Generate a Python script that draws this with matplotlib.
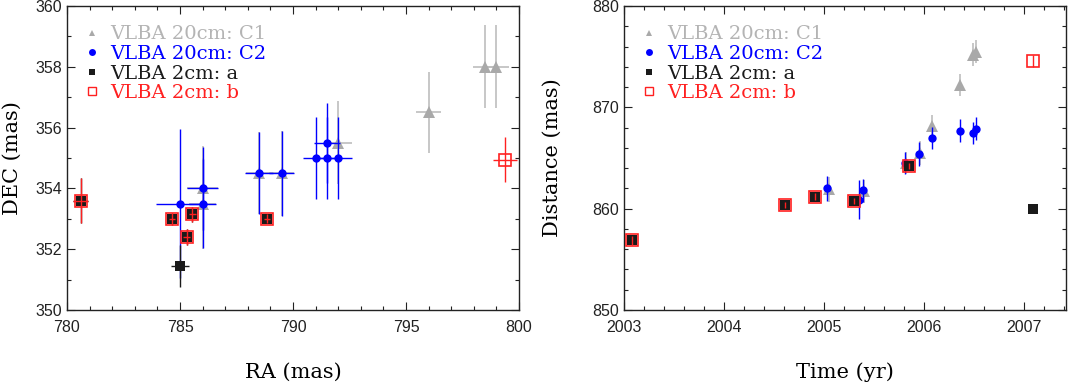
import matplotlib
matplotlib.use("Agg")
import matplotlib.pyplot as plt
from matplotlib.lines import Line2D
from matplotlib.ticker import MultipleLocator

# --- left panel: positions (mas) ---
c1_ra = [786.0, 786.0, 788.5, 789.5, 792.0, 796.0, 798.5, 799.0]
c1_dec = [354.0, 353.5, 354.5, 354.5, 355.5, 356.5, 358.0, 358.0]
c1_ra_err = [0.7, 0.6, 0.6, 0.55, 0.6, 0.55, 0.55, 0.55]
c1_dec_err = [1.4, 1.5, 1.35, 1.4, 1.37, 1.32, 1.37, 1.37]

c2_ra = [786.0, 785.0, 786.0, 788.5, 789.5, 791.0, 791.5, 791.5, 792.0]
c2_dec = [354.0, 353.5, 353.5, 354.5, 354.5, 355.0, 355.5, 355.0, 355.0]
c2_ra_err = [0.7, 1.06, 0.6, 0.63, 0.54, 0.56, 0.57, 0.6, 0.6]
c2_dec_err = [1.37, 2.45, 1.47, 1.35, 1.4, 1.35, 1.32, 1.35, 1.35]

a_ra = [780.6, 784.65, 785.55, 785.3, 788.85, 785.0]
a_dec = [353.6, 353.0, 353.15, 352.4, 353.0, 351.45]
a_ra_err = [0.35, 0.15, 0.15, 0.15, 0.15, 0.4]
a_dec_err = [0.75, 0.2, 0.24, 0.26, 0.15, 0.7]

b_ra = [780.6, 784.65, 785.55, 785.3, 788.85, 799.4]
b_dec = [353.6, 353.0, 353.15, 352.4, 353.0, 354.95]
b_ra_err = [0.35, 0.15, 0.15, 0.15, 0.15, 0.53]
b_dec_err = [0.75, 0.2, 0.24, 0.26, 0.15, 0.74]

# --- right panel: distance vs time ---
c1_t = [2005.05, 2005.4, 2005.82, 2005.96, 2006.08, 2006.36, 2006.49, 2006.52]
c1_d = [861.9, 861.7, 864.5, 865.5, 868.2, 872.2, 875.2, 875.5]
c1_d_err = [1.2, 1.1, 1.1, 1.15, 1.0, 1.1, 1.1, 1.1]

c2_t = [2005.03, 2005.35, 2005.39, 2005.81, 2005.95, 2006.08, 2006.36, 2006.49, 2006.52]
c2_d = [862.0, 860.9, 861.8, 864.5, 865.4, 867.0, 867.7, 867.5, 867.9]
c2_d_err = [1.2, 1.9, 1.1, 1.1, 1.15, 1.1, 1.1, 1.1, 1.1]

ab_t = [2003.08, 2004.61, 2004.91, 2005.30, 2005.85, 2007.09]
a_d = [856.9, 860.35, 861.2, 860.75, 864.2, 860.0]
a_d_err = [0.4, 0.3, 0.3, 0.3, 0.3, 0.45]
b_d = [856.9, 860.35, 861.2, 860.75, 864.2, 874.6]
b_d_err = [0.45, 0.3, 0.3, 0.3, 0.3, 0.6]

labels = ['VLBA 20cm: C1', 'VLBA 20cm: C2', 'VLBA 2cm: a', 'VLBA 2cm: b']
GRAY = '#a9a9a9'
BLUE = '#0000ff'
BLACK = '#1a1a1a'
RED = '#ff2020'

tick_font = 'Liberation Sans'
serif = 'DejaVu Serif'

fig = plt.figure(figsize=(10.76, 3.88), dpi=100)
ax1 = fig.add_axes([67 / 1076, 78 / 388, 452 / 1076, 304 / 388])
ax2 = fig.add_axes([624 / 1076, 78 / 388, 442 / 1076, 304 / 388])


def draw(ax, x, y, xerr, yerr, kind):
    if kind == 'c1':
        ax.errorbar(x, y, xerr=xerr, yerr=yerr, fmt='^', ms=8, color=GRAY,
                    ecolor='#bdbdbd', elinewidth=1.2, mew=0, zorder=2)
    elif kind == 'c2':
        ax.errorbar(x, y, xerr=xerr, yerr=yerr, fmt='o', ms=6, color=BLUE,
                    ecolor=BLUE, elinewidth=1.0, mew=0, zorder=3)
    elif kind == 'a':
        ax.errorbar(x, y, xerr=xerr, yerr=yerr, fmt='s', ms=6.5, color=BLACK,
                    ecolor=BLACK, elinewidth=1.0, mew=0, zorder=4)
    else:
        ax.errorbar(x, y, xerr=xerr, yerr=yerr, fmt='s', ms=8, mfc='none',
                    mec=RED, mew=1.2, color=RED, ecolor=RED, elinewidth=1.0,
                    zorder=5)


draw(ax1, c1_ra, c1_dec, c1_ra_err, c1_dec_err, 'c1')
draw(ax1, c2_ra, c2_dec, c2_ra_err, c2_dec_err, 'c2')
draw(ax1, a_ra, a_dec, a_ra_err, a_dec_err, 'a')
draw(ax1, b_ra, b_dec, b_ra_err, b_dec_err, 'b')

draw(ax2, c1_t, c1_d, None, c1_d_err, 'c1')
draw(ax2, c2_t, c2_d, None, c2_d_err, 'c2')
draw(ax2, ab_t, a_d, None, a_d_err, 'a')
draw(ax2, ab_t, b_d, None, b_d_err, 'b')

ax1.set_xlim(780, 800)
ax1.set_ylim(350, 360)
ax1.xaxis.set_major_locator(MultipleLocator(5))
ax1.xaxis.set_minor_locator(MultipleLocator(1))
ax1.yaxis.set_major_locator(MultipleLocator(2))
ax1.yaxis.set_minor_locator(MultipleLocator(1))
ax1.set_xlabel('RA (mas)', family=serif, fontsize=15, labelpad=20)
ax1.set_ylabel('DEC (mas)', family=serif, fontsize=15, labelpad=10)

ax2.set_xlim(2003, 2007.42)
ax2.set_ylim(850, 880)
ax2.xaxis.set_major_locator(MultipleLocator(1))
ax2.xaxis.set_minor_locator(MultipleLocator(0.2))
ax2.yaxis.set_major_locator(MultipleLocator(10))
ax2.yaxis.set_minor_locator(MultipleLocator(2))
ax2.set_xlabel('Time (yr)', family=serif, fontsize=15, labelpad=20)
ax2.set_ylabel('Distance (mas)', family=serif, fontsize=15, labelpad=22)

handles = [
    Line2D([], [], ls='none', marker='^', ms=5, color=GRAY, mew=0),
    Line2D([], [], ls='none', marker='o', ms=5, color=BLUE, mew=0),
    Line2D([], [], ls='none', marker='s', ms=5, color=BLACK, mew=0),
    Line2D([], [], ls='none', marker='s', ms=6, mfc='none', mec=RED, mew=1),
]
text_colors = ['#b4b4b4', BLUE, BLACK, RED]

for ax in (ax1, ax2):
    ax.tick_params(which='both', direction='in', top=True, right=True,
                   labelsize=11.5, width=0.8, colors='#222222')
    ax.tick_params(which='major', length=6)
    ax.tick_params(which='minor', length=3)
    ax.tick_params(axis='x', which='major', pad=7)
    for lab in ax.get_xticklabels() + ax.get_yticklabels():
        lab.set_family(tick_font)
    for s in ax.spines.values():
        s.set_linewidth(1.0)
        s.set_color('#222222')
    leg = ax.legend(handles, labels, loc='upper left', frameon=False,
                    handlelength=0.6, handletextpad=0.6, labelspacing=0.08,
                    borderaxespad=0.6, prop={'family': serif, 'size': 14})
    for t, c in zip(leg.get_texts(), text_colors):
        t.set_color(c)

fig.savefig('out.png', dpi=100)
